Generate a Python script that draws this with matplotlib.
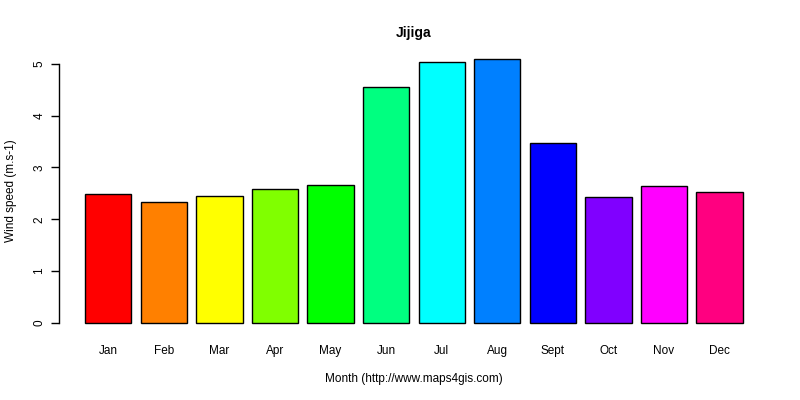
import matplotlib
matplotlib.use("Agg")
import matplotlib.pyplot as plt

# Monthly mean wind speed, Jijiga
months = ['Jan', 'Feb', 'Mar', 'Apr', 'May', 'Jun',
          'Jul', 'Aug', 'Sept', 'Oct', 'Nov', 'Dec']
wind = [2.48, 2.34, 2.45, 2.59, 2.66, 4.55,
        5.04, 5.10, 3.47, 2.43, 2.64, 2.53]
colors = ['#FF0000', '#FF8000', '#FFFF00', '#80FF00', '#00FF00', '#00FF80',
          '#00FFFF', '#0080FF', '#0000FF', '#8000FF', '#FF00FF', '#FF0080']

plt.rcParams['font.family'] = ['Liberation Sans', 'DejaVu Sans']

fig = plt.figure(figsize=(8, 4), dpi=100)
ax = fig.add_axes([0.0734, 0.166, 0.888, 0.714])

# R-style barplot: width 1, space 0.2
lefts = [0.2 + i * 1.2 for i in range(len(months))]
centers = [l + 0.5 for l in lefts]
ax.bar(centers, wind, width=1.0, color=colors, edgecolor='black', linewidth=1.0)

xmin, xmax = lefts[0], lefts[-1] + 1.0
ext = (xmax - xmin) * 0.04
ax.set_xlim(xmin - ext, xmax + ext)
ymax = max(wind)
ax.set_ylim(-ymax * 0.04, ymax * 1.04)

for s in ['top', 'right', 'bottom']:
    ax.spines[s].set_visible(False)
ax.spines['left'].set_bounds(0, 5)
ax.spines['left'].set_linewidth(1.0)

ax.set_yticks([0, 1, 2, 3, 4, 5])
ax.set_yticklabels(['0', '1', '2', '3', '4', '5'], rotation=90, va='center')
ax.tick_params(axis='y', length=6, labelsize=8.5, width=1.0)
ax.set_xticks(centers)
ax.set_xticklabels(months)
ax.tick_params(axis='x', length=0, labelsize=8.5, pad=8)

ax.set_ylabel('Wind speed (m.s-1)', fontsize=8.5, labelpad=12)
ax.set_xlabel('Month (http://www.maps4gis.com)', fontsize=8.5, labelpad=12)
ax.set_title('Jijiga', fontsize=10, fontweight='bold', pad=8)

fig.savefig('out.png', dpi=100)
